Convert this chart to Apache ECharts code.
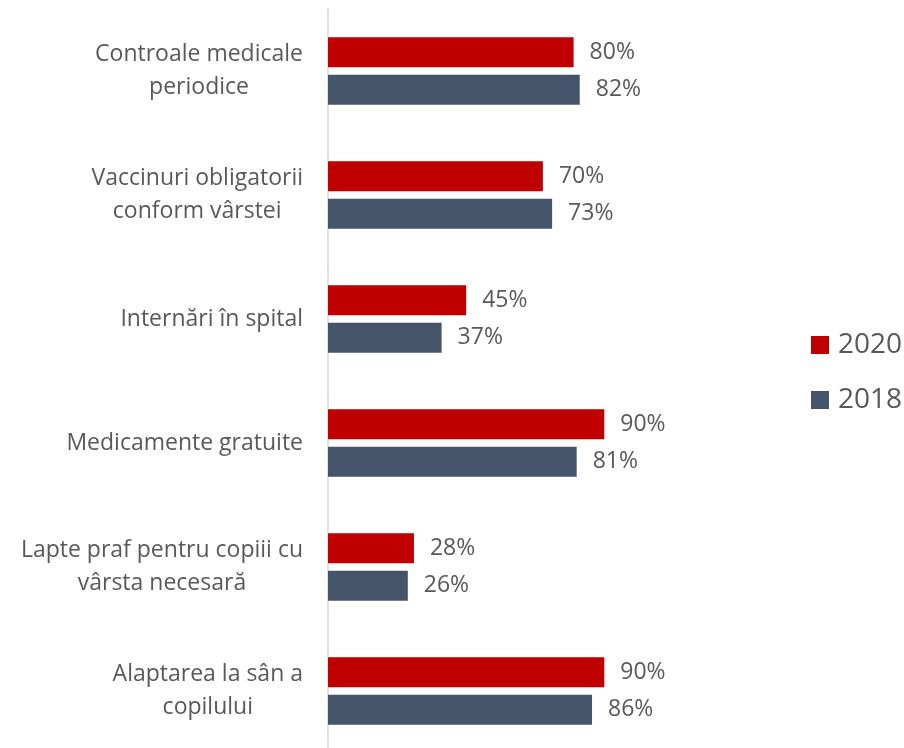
<!DOCTYPE html>
<html>
<head>
<meta charset="utf-8">
<script src="https://cdn.jsdelivr.net/npm/echarts@6/dist/echarts.min.js"></script>
<style>
  html, body { margin: 0; padding: 0; background: #fff; }
  #chart { width: 904px; height: 748px; }
</style>
</head>
<body>
<div id="chart"></div>
<script>
const categories = [
  "Controale medicale\nperiodice",
  "Vaccinuri obligatorii\nconform vârstei",
  "Internări în spital",
  "Medicamente gratuite",
  "Lapte praf pentru copiii cu\nvârsta necesară",
  "Alaptarea la sân a\ncopilului",
];
const values2020 = [80, 70, 45, 90, 28, 90];
const values2018 = [82, 73, 37, 81, 26, 86];

const textColor = "#595959";
const font = "'Open Sans', sans-serif";

const myChart = echarts.init(document.getElementById("chart"));

const option = {
  animation: false,
  textStyle: { fontFamily: font },
  legend: {
    orient: "vertical",
    left: 806,
    top: 326,
    itemWidth: 18,
    itemHeight: 18,
    itemGap: 27,
    icon: "rect",
    textStyle: { color: textColor, fontSize: 28, fontFamily: font, padding: [0, 0, 0, 4] },
    data: ["2020", "2018"],
  },
  grid: { left: 328, width: 307, top: 9, height: 744, outerBoundsMode: "none", containLabel: false },
  xAxis: {
    type: "value",
    min: 0,
    max: 100,
    show: false,
  },
  yAxis: {
    type: "category",
    inverse: true,
    data: categories,
    axisLine: { show: true, lineStyle: { color: "#D9D9D9", width: 1.5 } },
    axisTick: { show: false },
    axisLabel: {
      margin: 25,
      color: textColor,
      fontSize: 23,
      fontFamily: font,
      lineHeight: 33,
      formatter: (value) =>
        value.split("\n").map((l) => "{c|" + l + "}").join("\n"),
      rich: {
        c: { align: "center", color: textColor, fontSize: 23, fontFamily: font, lineHeight: 33 },
      },
    },
  },
  series: [
    {
      name: "2020",
      type: "bar",
      data: values2020,
      barWidth: 30,
      barGap: "25%",
      itemStyle: { color: "#C00000" },
      label: {
        show: true,
        position: "right",
        distance: 16,
        formatter: "{c}%",
        color: textColor,
        fontSize: 23,
        fontFamily: font,
      },
    },
    {
      name: "2018",
      type: "bar",
      data: values2018,
      barWidth: 30,
      itemStyle: { color: "#44546A" },
      label: {
        show: true,
        position: "right",
        distance: 16,
        formatter: "{c}%",
        color: textColor,
        fontSize: 23,
        fontFamily: font,
      },
    },
  ],
};

myChart.setOption(option);
</script>
</body>
</html>
